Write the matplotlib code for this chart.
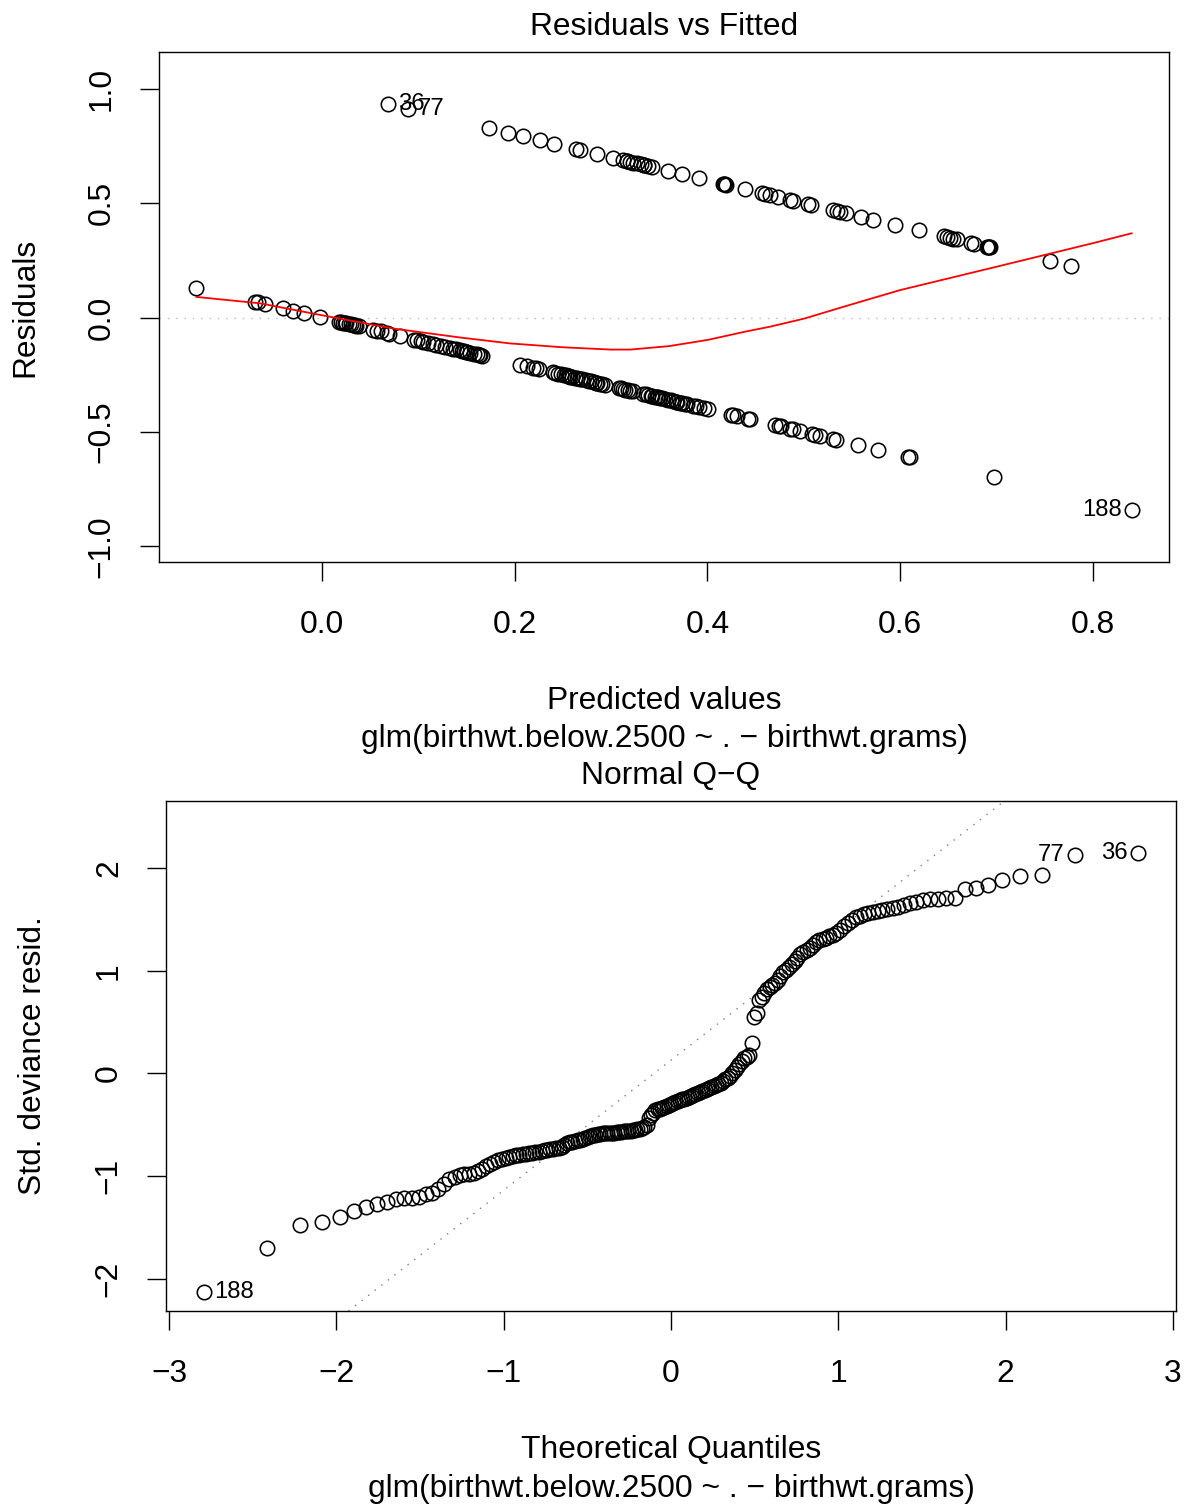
import matplotlib
matplotlib.use("Agg")
import matplotlib.pyplot as plt
import numpy as np
from statistics import NormalDist

plt.rcParams['font.family'] = ['Liberation Sans', 'DejaVu Sans']

# fitted values / residuals, cases with birthwt.below.2500 == 1
fitted_hi = [0.069, 0.089, 0.173, 0.193, 0.209, 0.226, 0.241, 0.264, 0.268, 0.286,
             0.302, 0.312, 0.317, 0.317, 0.320, 0.323, 0.327, 0.331, 0.334, 0.334,
             0.338, 0.343, 0.359, 0.374, 0.391, 0.416, 0.417, 0.418, 0.419, 0.439,
             0.457, 0.460, 0.465, 0.473, 0.486, 0.489, 0.504, 0.507, 0.530, 0.534,
             0.538, 0.544, 0.559, 0.572, 0.595, 0.619, 0.645, 0.649, 0.652, 0.655,
             0.659, 0.673, 0.677, 0.690, 0.691, 0.692, 0.693, 0.755, 0.777]
resid_hi = [0.931, 0.911, 0.827, 0.807, 0.791, 0.774, 0.759, 0.736, 0.732, 0.714,
            0.698, 0.688, 0.683, 0.683, 0.680, 0.677, 0.673, 0.669, 0.666, 0.666,
            0.662, 0.657, 0.641, 0.626, 0.609, 0.584, 0.583, 0.582, 0.581, 0.561,
            0.543, 0.540, 0.535, 0.527, 0.514, 0.511, 0.496, 0.493, 0.470, 0.466,
            0.462, 0.456, 0.441, 0.428, 0.405, 0.381, 0.355, 0.351, 0.348, 0.345,
            0.341, 0.327, 0.323, 0.310, 0.309, 0.308, 0.307, 0.245, 0.223]

# cases with birthwt.below.2500 == 0
fitted_lo = [-0.130, -0.069, -0.066, -0.059, -0.040, -0.030, -0.018, -0.002,
             0.018, 0.020, 0.022, 0.024, 0.025, 0.028, 0.030, 0.032, 0.034, 0.036, 0.039,
             0.053, 0.057, 0.061, 0.068, 0.070, 0.081,
             0.096, 0.099, 0.103, 0.105, 0.110, 0.115, 0.119, 0.124, 0.128, 0.133, 0.136, 0.139,
             0.143, 0.145, 0.148, 0.150, 0.151, 0.154, 0.158, 0.161, 0.163, 0.164, 0.166,
             0.206, 0.213, 0.219, 0.222, 0.225,
             0.240, 0.242, 0.245, 0.248, 0.251, 0.253, 0.255, 0.256, 0.258, 0.260, 0.263,
             0.265, 0.268, 0.270, 0.274, 0.277, 0.279, 0.282, 0.284, 0.286, 0.289, 0.291, 0.294,
             0.308, 0.310, 0.312, 0.315, 0.318, 0.320, 0.323,
             0.333, 0.336, 0.338, 0.341, 0.343, 0.346, 0.348, 0.349, 0.351, 0.353,
             0.356, 0.359, 0.362, 0.364, 0.367, 0.369, 0.372, 0.374, 0.377, 0.379,
             0.385, 0.388, 0.391, 0.396, 0.401,
             0.424, 0.427, 0.431, 0.442, 0.444,
             0.470, 0.474, 0.476, 0.486, 0.489, 0.496, 0.509, 0.512, 0.517, 0.530, 0.533,
             0.556, 0.577, 0.608, 0.610, 0.697, 0.840]
resid_lo = [0.130, 0.069, 0.066, 0.059, 0.040, 0.030, 0.018, 0.002,
            -0.018, -0.020, -0.022, -0.024, -0.025, -0.028, -0.030, -0.032, -0.034, -0.036, -0.039,
            -0.053, -0.057, -0.061, -0.068, -0.070, -0.081,
            -0.096, -0.099, -0.103, -0.105, -0.110, -0.115, -0.119, -0.124, -0.128, -0.133, -0.136, -0.139,
            -0.143, -0.145, -0.148, -0.150, -0.151, -0.154, -0.158, -0.161, -0.163, -0.164, -0.166,
            -0.206, -0.213, -0.219, -0.222, -0.225,
            -0.240, -0.242, -0.245, -0.248, -0.251, -0.253, -0.255, -0.256, -0.258, -0.260, -0.263,
            -0.265, -0.268, -0.270, -0.274, -0.277, -0.279, -0.282, -0.284, -0.286, -0.289, -0.291, -0.294,
            -0.308, -0.310, -0.312, -0.315, -0.318, -0.320, -0.323,
            -0.333, -0.336, -0.338, -0.341, -0.343, -0.346, -0.348, -0.349, -0.351, -0.353,
            -0.356, -0.359, -0.362, -0.364, -0.367, -0.369, -0.372, -0.374, -0.377, -0.379,
            -0.385, -0.388, -0.391, -0.396, -0.401,
            -0.424, -0.427, -0.431, -0.442, -0.444,
            -0.470, -0.474, -0.476, -0.486, -0.489, -0.496, -0.509, -0.512, -0.517, -0.530, -0.533,
            -0.556, -0.577, -0.608, -0.610, -0.697, -0.840]

# lowess smoother through the residuals
smooth_x = [-0.130, -0.064, 0.005, 0.074, 0.143, 0.195, 0.25, 0.30, 0.32, 0.36,
            0.40, 0.44, 0.465, 0.50, 0.55, 0.60, 0.70, 0.80, 0.840]
smooth_y = [0.090, 0.062, 0.006, -0.048, -0.087, -0.113, -0.130, -0.140, -0.140, -0.125,
            -0.098, -0.061, -0.040, -0.005, 0.058, 0.120, 0.222, 0.325, 0.368]

# labelled observations: (id, fitted, residual)
flagged_rf = [("36", 0.069, 0.931), ("77", 0.089, 0.911), ("188", 0.840, -0.840)]

# sorted standardized deviance residuals
std_resid = [-2.13, -1.70, -1.48, -1.45, -1.40, -1.34, -1.30, -1.27, -1.25, -1.22,
             -1.21, -1.21, -1.20, -1.17, -1.16, -1.13, -1.08, -1.03, -1.01, -0.99,
             -0.98, -0.975, -0.965, -0.95, -0.93, -0.90, -0.88, -0.86, -0.84, -0.83,
             -0.82, -0.81, -0.80, -0.795, -0.79, -0.785, -0.78, -0.775, -0.77, -0.765,
             -0.76, -0.755, -0.75, -0.745, -0.74, -0.735, -0.73, -0.725, -0.715, -0.70,
             -0.68, -0.67, -0.665, -0.66, -0.65, -0.645, -0.64, -0.63, -0.62, -0.61,
             -0.60, -0.595, -0.59, -0.585, -0.58, -0.58, -0.58, -0.575, -0.575, -0.575,
             -0.57, -0.57, -0.57, -0.565, -0.565, -0.565, -0.56, -0.555, -0.55, -0.545,
             -0.54, -0.53, -0.52, -0.50, -0.43, -0.40, -0.38, -0.36, -0.35, -0.345,
             -0.34, -0.33, -0.32, -0.31, -0.30, -0.29, -0.28, -0.27, -0.26, -0.25,
             -0.245, -0.24, -0.23, -0.22, -0.21, -0.20, -0.19, -0.18, -0.17, -0.16,
             -0.15, -0.14, -0.13, -0.12, -0.11, -0.10, -0.09, -0.07, -0.05, -0.04,
             -0.02, 0.00, 0.03, 0.06, 0.09, 0.12, 0.15, 0.165, 0.18, 0.30,
             0.55, 0.59, 0.72, 0.75, 0.78, 0.82, 0.84, 0.86, 0.88, 0.91,
             0.95, 0.985, 1.01, 1.04, 1.07, 1.10, 1.13, 1.16, 1.18, 1.20,
             1.22, 1.25, 1.28, 1.30, 1.31, 1.32, 1.34, 1.35, 1.37, 1.40,
             1.44, 1.47, 1.50, 1.52, 1.53, 1.55, 1.56, 1.57, 1.58, 1.59,
             1.60, 1.61, 1.62, 1.64, 1.66, 1.67, 1.69, 1.70, 1.70, 1.71,
             1.71, 1.80, 1.81, 1.84, 1.89, 1.92, 1.93, 2.13, 2.15]
# labelled observations: (id, rank in sorted residuals)
flagged_qq = [("188", 0), ("77", 187), ("36", 188)]

rf_xticks = [0.0, 0.2, 0.4, 0.6, 0.8]
rf_xlabels = ["0.0", "0.2", "0.4", "0.6", "0.8"]
rf_yticks = [-1.0, -0.5, 0.0, 0.5, 1.0]
rf_ylabels = ["\u22121.0", "\u22120.5", "0.0", "0.5", "1.0"]
qq_xticks = [-3, -2, -1, 0, 1, 2, 3]
qq_xlabels = ["\u22123", "\u22122", "\u22121", "0", "1", "2", "3"]
qq_yticks = [-2, -1, 0, 1, 2]
qq_ylabels = ["\u22122", "\u22121", "0", "1", "2"]

model_call = "glm(birthwt.below.2500 ~ . \u2212 birthwt.grams)"

W, H = 1187, 1507
FS = 22.9
FS_ID = FS * 0.75


def fx(px):
    return px / W


def fy(py):
    return 1 - py / H


def r_axes(ax, xticks, xlabels, yticks, ylabels):
    ax.set_xticks(xticks)
    ax.set_xticklabels(xlabels)
    ax.set_yticks(yticks)
    ax.set_yticklabels(ylabels, rotation=90, va="center")
    ax.tick_params(direction="out", length=13.8, width=1.0, labelsize=FS,
                   colors="black")
    ax.tick_params(axis="x", pad=20.8)
    ax.tick_params(axis="y", pad=16.5)
    for s in ax.spines.values():
        s.set_linewidth(1.0)
        s.set_color("black")


def circles(ax, x, y):
    ax.plot(x, y, linestyle="none", marker="o", ms=10.4, mfc="none",
            mec="black", mew=1.15)


def label(txt, px, py, **kw):
    fig.text(fx(px), fy(py), txt, ha="center", va="center", fontsize=FS, **kw)


fig = plt.figure(figsize=(W / 100, H / 100), dpi=100)

# Residuals vs Fitted
ax1 = fig.add_axes([fx(159), fy(562), fx(1010), 510 / H])
ax1.axhline(0, color="#BEBEBE", lw=1.0, linestyle=(0, (1, 5)))
circles(ax1, fitted_hi, resid_hi)
circles(ax1, fitted_lo, resid_lo)
ax1.plot(smooth_x, smooth_y, color="red", lw=1.3)
mid_x = np.mean([min(fitted_lo), max(fitted_lo)])
for lab, x, y in flagged_rf:
    right = x < mid_x
    ax1.annotate(lab, (x, y), xytext=(7 if right else -7, 0), textcoords="offset points",
                 ha="left" if right else "right", va="center", fontsize=FS_ID)
ax1.set_xlim(-0.1688, 0.8788)
ax1.set_ylim(-1.068, 1.160)
r_axes(ax1, rf_xticks, rf_xlabels, rf_yticks, rf_ylabels)

label("Residuals vs Fitted", 664, 27)
label("Predicted values", 664, 701)
label(model_call, 664, 739)
label("Residuals", 25, 307, rotation=90)

# Normal Q-Q
n = len(std_resid)
theo = [NormalDist().inv_cdf((i + 0.5) / n) for i in range(n)]
ax2 = fig.add_axes([fx(166), fy(1311), fx(1010), 510 / H])
q1, q3 = np.quantile(std_resid, [0.25, 0.75])
z1, z3 = NormalDist().inv_cdf(0.25), NormalDist().inv_cdf(0.75)
slope = (q3 - q1) / (z3 - z1)
ax2.axline((0, q1 - slope * z1), slope=slope, color="#7F7F7F", lw=1.0,
           linestyle=(0, (1, 5)))
circles(ax2, theo, std_resid)
for lab, k in flagged_qq:
    right = theo[k] < 0
    ax2.annotate(lab, (theo[k], std_resid[k]), xytext=(7 if right else -7, 0),
                 textcoords="offset points", ha="left" if right else "right",
                 va="center", fontsize=FS_ID)
ax2.set_xlim(-3.018, 3.018)
ax2.set_ylim(-2.314, 2.655)
r_axes(ax2, qq_xticks, qq_xlabels, qq_yticks, qq_ylabels)

label("Normal Q\u2212Q", 671, 776)
label("Theoretical Quantiles", 671, 1450)
label(model_call, 671, 1489)
label("Std. deviance resid.", 33, 1056, rotation=90)

fig.savefig("out.png", dpi=100)
